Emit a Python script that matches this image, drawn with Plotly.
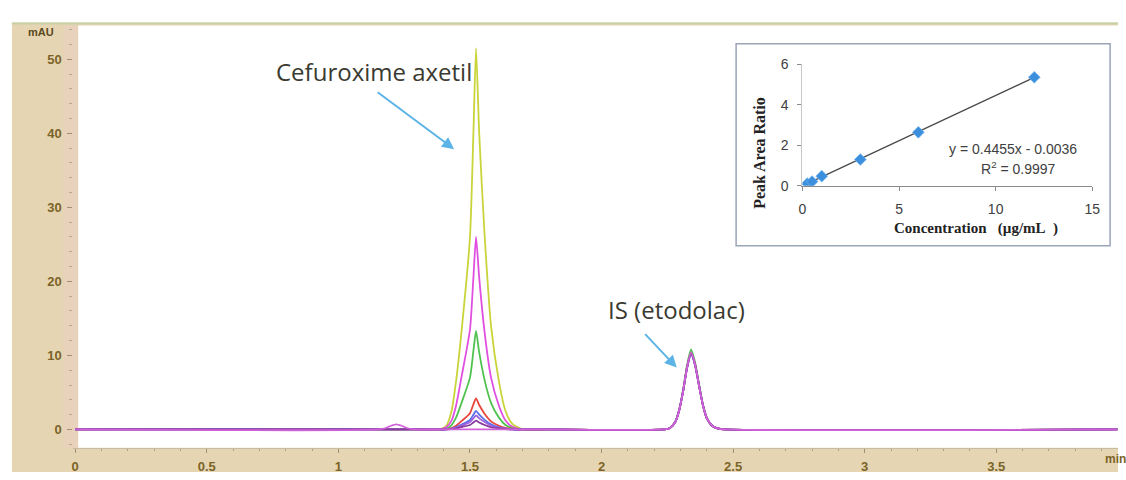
import plotly.graph_objects as go

W, H = 1126, 480

# ---------------- chromatogram data ----------------
TIME = [0.00,
        1.15, 1.18, 1.20, 1.22, 1.24, 1.26, 1.29,
        1.38, 1.41, 1.43, 1.447, 1.47, 1.50, 1.513, 1.523, 1.535, 1.556, 1.58, 1.61, 1.635, 1.66, 1.70,
        1.80,
        2.24, 2.26, 2.28, 2.295, 2.31, 2.325, 2.34, 2.355, 2.37, 2.385, 2.40, 2.42, 2.44, 2.47,
        3.96]

Y_12 = [0,
        0, 0, 0, 0, 0, 0, 0,
        0, 0.5, 2.5, 6.5, 14, 26, 40, 51.5, 40, 26, 14, 6.5, 2.5, 0.8, 0,
        0,
        0, 0.2, 1.0, 2.6, 5.2, 8.4, 10.4, 8.8, 6.0, 3.3, 1.5, 0.5, 0.15, 0,
        0]
Y_6 = [0,
       0, 0, 0, 0, 0, 0, 0,
       0, 0.3, 1.2, 3.2, 7.5, 13.5, 20.5, 26, 20.5, 13, 7, 3.2, 1.2, 0.4, 0,
       0,
       0, 0.2, 1.0, 2.6, 5.2, 8.5, 10.5, 8.9, 6.1, 3.3, 1.5, 0.5, 0.15, 0,
       0]
Y_3 = [0,
       0, 0, 0, 0, 0, 0, 0,
       0, 0.1, 0.6, 1.6, 3.8, 7.0, 10.6, 13.3, 10.4, 6.6, 3.6, 1.6, 0.6, 0.2, 0,
       0,
       0, 0.2, 1.1, 2.7, 5.4, 8.7, 10.8, 9.1, 6.2, 3.4, 1.6, 0.5, 0.15, 0,
       0]
Y_1 = [0,
       0, 0, 0, 0, 0, 0, 0,
       0, 0.05, 0.2, 0.5, 1.2, 2.2, 3.4, 4.2, 3.3, 2.1, 1.1, 0.5, 0.2, 0.1, 0,
       0,
       0, 0.2, 1.0, 2.6, 5.2, 8.4, 10.3, 8.8, 6.0, 3.3, 1.5, 0.5, 0.15, 0,
       0]
Y_05 = [0,
        0, 0, 0, 0, 0, 0, 0,
        0, 0, 0.1, 0.3, 0.7, 1.3, 2.0, 2.5, 2.0, 1.3, 0.7, 0.3, 0.1, 0, 0,
        0,
        0, 0.2, 1.0, 2.6, 5.2, 8.3, 10.2, 8.7, 6.0, 3.3, 1.5, 0.5, 0.15, 0,
        0]
Y_025 = [0,
         0, 0, 0, 0, 0, 0, 0,
         0, 0, 0.1, 0.25, 0.55, 1.0, 1.5, 1.9, 1.5, 1.0, 0.5, 0.25, 0.1, 0, 0,
         0,
         0, 0.2, 1.0, 2.6, 5.2, 8.3, 10.2, 8.7, 6.0, 3.3, 1.5, 0.5, 0.15, 0,
         0]
Y_01 = [0,
        0, 0, 0, 0, 0, 0, 0,
        0, 0, 0.05, 0.15, 0.35, 0.6, 0.95, 1.2, 0.95, 0.6, 0.3, 0.15, 0.05, 0, 0,
        0,
        0, 0.2, 1.0, 2.6, 5.2, 8.4, 10.3, 8.8, 6.0, 3.3, 1.5, 0.5, 0.15, 0,
        0]
Y_BLANK = [0,
           0, 0.2, 0.5, 0.7, 0.5, 0.2, 0,
           0, 0, 0, 0, 0, 0, 0, 0, 0, 0, 0, 0, 0, 0, 0,
           0,
           0, 0.2, 1.0, 2.6, 5.2, 8.4, 10.4, 8.8, 6.0, 3.3, 1.5, 0.5, 0.15, 0,
           0]

TRACES = [Y_12, Y_6, Y_3, Y_1, Y_05, Y_025, Y_01, Y_BLANK]
TRACE_COLORS = ["#c9d43a", "#e04fe0", "#4fc24f", "#e8453c", "#5a6ee8", "#9a60e0", "#8a3a9a", "#cf62d8"]

X_TICKS = [0, 0.5, 1, 1.5, 2, 2.5, 3, 3.5]
X_TICK_TEXT = ["0", "0.5", "1", "1.5", "2", "2.5", "3", "3.5"]
Y_TICKS = [0, 10, 20, 30, 40, 50]

# ---------------- calibration inset data ----------------
CONC = [0.25, 0.5, 1, 3, 6, 12]
RATIO = [0.11, 0.21, 0.48, 1.30, 2.64, 5.35]
TREND_X = [0.2, 12]
TREND_Y = [0.085, 5.343]

def px(x):
    return x / W

def py(y):
    return 1 - y / H

fig = go.Figure()

for ys, c in zip(TRACES, TRACE_COLORS):
    fig.add_trace(go.Scatter(
        x=TIME, y=ys, mode="lines",
        line=dict(color=c, width=1.8, shape="spline", smoothing=0.6),
        xaxis="x", yaxis="y", showlegend=False, hoverinfo="skip"))

fig.add_trace(go.Scatter(
    x=TREND_X, y=TREND_Y, mode="lines",
    line=dict(color="#4a4a4a", width=1.3),
    xaxis="x2", yaxis="y2", showlegend=False))
fig.add_trace(go.Scatter(
    x=CONC, y=RATIO, mode="markers",
    marker=dict(symbol="diamond", size=9, color="#3b8fdc",
                line=dict(color="#6fb3f0", width=0.8)),
    xaxis="x2", yaxis="y2", showlegend=False))

OLIVE = "#7a6428"
TICKFONT = dict(family="Liberation Sans, Arial", size=13, color=OLIVE, weight="bold")

x0_px, x_scale = 72, 266.0
y0_px, y_scale = 436, 7.66


def arrow(head, tail):
    return dict(text="", xref="paper", yref="paper", x=px(head[0]), y=py(head[1]),
                ax=tail[0] - head[0], ay=tail[1] - head[1], axref="pixel", ayref="pixel",
                showarrow=True, arrowhead=2, arrowsize=1.2, arrowwidth=2, arrowcolor="#5cb4e6")


layout = dict(
    width=W, height=H,
    margin=dict(l=0, r=0, t=0, b=0),
    paper_bgcolor="white",
    plot_bgcolor="rgba(0,0,0,0)",
    xaxis=dict(
        domain=[px(70), 1],
        range=[(70 - x0_px) / x_scale, (W - x0_px) / x_scale],
        tickvals=X_TICKS, ticktext=X_TICK_TEXT,
        ticks="outside", ticklen=4, tickcolor="#a09070", tickwidth=1,
        minor=dict(dtick=0.1, ticks="outside", ticklen=2, tickcolor="#b0a080"),
        showgrid=False, zeroline=False,
        showline=True, linecolor="#c8bca0", linewidth=1,
        tickfont=TICKFONT, ticklabelstandoff=3,
        anchor="y",
    ),
    yaxis=dict(
        domain=[py(455), py(18)],
        range=[-(455 - y0_px) / y_scale, (y0_px - 18) / y_scale],
        tickvals=Y_TICKS,
        ticks="outside", ticklen=5, tickcolor="#a09070", tickwidth=1,
        minor=dict(dtick=2, ticks="outside", ticklen=3, tickcolor="#b8a888"),
        showgrid=False, zeroline=False, showline=False,
        tickfont=TICKFONT, ticklabelstandoff=3,
        anchor="x",
    ),
    xaxis2=dict(
        domain=[px(807), px(1100)], range=[0, 15],
        tickvals=[0, 5, 10, 15],
        ticks="outside", ticklen=4, tickcolor="#8a8a8a",
        showline=True, linecolor="#8a8a8a", linewidth=1,
        showgrid=False, zeroline=False,
        tickfont=dict(family="Liberation Sans, Arial", size=14, color="#404040"),
        ticklabelstandoff=6,
        anchor="y2",
    ),
    yaxis2=dict(
        domain=[py(184), py(58)], range=[0, 6],
        tickvals=[0, 2, 4, 6],
        ticks="outside", ticklen=4, tickcolor="#8a8a8a",
        showline=True, linecolor="#c8c8c8", linewidth=1,
        showgrid=False, zeroline=False,
        tickfont=dict(family="Liberation Sans, Arial", size=14, color="#404040"),
        ticklabelstandoff=6,
        anchor="x2",
    ),
    shapes=[
        dict(type="rect", xref="paper", yref="paper", x0=px(8), x1=1, y0=0, y1=py(15),
             fillcolor="#e6d5b3", line=dict(width=0), layer="below"),
        dict(type="rect", xref="paper", yref="paper", x0=px(60), x1=px(75), y0=py(455), y1=py(18),
             fillcolor="#ead0c0", line=dict(width=0), layer="below", opacity=0.6),
        dict(type="rect", xref="paper", yref="paper", x0=px(75), x1=1, y0=py(455), y1=py(18),
             fillcolor="white", line=dict(width=0), layer="below"),
        dict(type="line", xref="paper", yref="paper", x0=px(8), x1=1, y0=py(16), y1=py(16),
             line=dict(color="#c8d2a6", width=2), layer="below"),
        dict(type="rect", xref="paper", yref="paper", x0=px(740), x1=px(1118), y0=py(246), y1=py(37),
             fillcolor="white", line=dict(color="#9aa5b8", width=1.5), layer="below"),
    ],
    annotations=[
        dict(text="mAU", xref="paper", yref="paper", x=px(37), y=py(25),
             showarrow=False, xanchor="center", yanchor="middle",
             font=dict(family="Liberation Sans, Arial", size=11, color="#5a4a20", weight="bold")),
        dict(text="min", xref="paper", yref="paper", x=px(1111), y=py(467),
             showarrow=False, xanchor="left", yanchor="middle",
             font=dict(family="Liberation Sans, Arial", size=12, color=OLIVE, weight="bold")),
        dict(text="Cefuroxime axetil", xref="paper", yref="paper", x=px(374), y=py(66),
             showarrow=False, xanchor="center", yanchor="middle",
             font=dict(family="Open Sans", size=24, color="#3a3a30")),
        arrow((455, 146), (377, 88)),
        dict(text="IS (etodolac)", xref="paper", yref="paper", x=px(680), y=py(312),
             showarrow=False, xanchor="center", yanchor="middle",
             font=dict(family="Open Sans", size=24, color="#3a3a30")),
        arrow((680, 372), (647, 337)),
        dict(text="y = 0.4455x - 0.0036", xref="paper", yref="paper", x=px(1020), y=py(146),
             showarrow=False, xanchor="center", yanchor="middle",
             font=dict(family="Liberation Sans, Arial", size=14, color="#404040")),
        dict(text="R<sup>2</sup> = 0.9997", xref="paper", yref="paper", x=px(1025), y=py(165),
             showarrow=False, xanchor="center", yanchor="middle",
             font=dict(family="Liberation Sans, Arial", size=14, color="#404040")),
        dict(text="Concentration\u00a0\u00a0\u00a0(\u00b5g/mL\u00a0\u00a0)", xref="paper", yref="paper",
             x=px(982), y=py(228), showarrow=False, xanchor="center", yanchor="middle",
             font=dict(family="Liberation Serif, Times New Roman", size=15, color="#222222", weight="bold")),
        dict(text="Peak Area Ratio", xref="paper", yref="paper", x=px(763), y=py(150),
             showarrow=False, xanchor="center", yanchor="middle", textangle=-90,
             font=dict(family="Liberation Serif, Times New Roman", size=16, color="#222222", weight="bold")),
    ],
)

fig.update_layout(**layout)
fig.write_html("out.html")
